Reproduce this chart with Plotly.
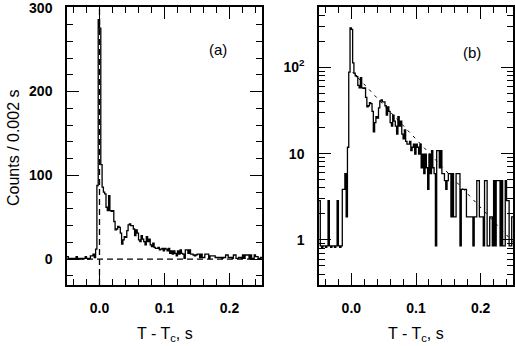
import math
import plotly.graph_objects as go

# ---------------- data ----------------
bin_width = 0.002          # s
x_start = -0.05            # s, left edge of first bin
counts = [
    3, 1, 0, 1, 1, 0, 1, 3, 1, 0,
    1, 1, 0, 1, 3, 1, 0, 1, 4, 4,
    6, 2, 12, 88, 286, 276, 113, 86, 80, 78,
    62, 58, 76, 58, 57, 58, 45, 35, 36, 39,
    38, 31, 18, 23, 27, 26, 34, 41, 42, 40,
    40, 36, 28, 35, 31, 23, 21, 28, 24, 21,
    17, 27, 21, 24, 17, 15, 19, 14, 13, 13,
    14, 11, 12, 13, 10, 13, 12, 10, 13, 7,
    10, 6, 10, 7, 4, 10, 6, 11, 7, 6,
    1, 11, 11, 7, 11, 6, 6, 5, 4, 5,
    6, 6, 2, 6, 2, 2, 6, 6, 6, 1,
    4, 4, 4, 4, 2, 2, 2, 2, 2, 1,
    2, 2, 5, 5, 2, 2, 2, 1, 5, 5,
    1, 1, 2, 2, 1, 5, 1, 5, 5, 5,
    1, 5, 1, 1, 5, 3, 3, 1, 1, 2,
]
background = 0.15          # counts per bin subtracted
log_floor = 0.82           # lowest value drawn on the log panel

fit_x = [0.002, 0.25]      # exponential fit (straight on log axis)
fit_y = [88.0, 0.95]

x_ticks = [0.0, 0.1, 0.2]
x_tick_text = ["0.0", "0.1", "0.2"]
lin_ticks = [0, 100, 200, 300]
log_ticks = [1, 10, 100]
log_tick_text = ["1", "10", "10<sup>2</sup>"]

# ---------------- derived ----------------
edges = [x_start + bin_width * i for i in range(len(counts) + 1)]
lin_vals = [c - background for c in counts]
log_vals = [max(v, log_floor) for v in lin_vals]
step_x = edges
lin_y = lin_vals + [lin_vals[-1]]
log_y = log_vals + [log_vals[-1]]

W, H = 515, 346
def px(x):
    return x / W
def py(y):
    return 1 - y / H

fig = go.Figure()
fig.add_trace(go.Scatter(x=step_x, y=lin_y, mode="lines", line=dict(shape="hv", color="black", width=1.3),
                         xaxis="x", yaxis="y", showlegend=False, hoverinfo="skip"))
fig.add_trace(go.Scatter(x=[0, 0], y=[-31, 301], mode="lines", line=dict(color="black", width=1.3, dash="6px,4px"),
                         xaxis="x", yaxis="y", showlegend=False, hoverinfo="skip"))
fig.add_trace(go.Scatter(x=[-0.05, 0.25], y=[0, 0], mode="lines", line=dict(color="black", width=1.2, dash="6px,4px"),
                         xaxis="x", yaxis="y", showlegend=False, hoverinfo="skip"))
fig.add_trace(go.Scatter(x=step_x, y=log_y, mode="lines", line=dict(shape="hv", color="black", width=1.3),
                         xaxis="x2", yaxis="y2", showlegend=False, hoverinfo="skip"))
fig.add_trace(go.Scatter(x=fit_x, y=fit_y, mode="lines", line=dict(color="black", width=1, dash="3px,5px"),
                         xaxis="x2", yaxis="y2", showlegend=False, hoverinfo="skip"))

tickfont = dict(family="Liberation Sans", size=14, color="black", weight="bold")
common = dict(showline=True, linecolor="black", linewidth=1.5, mirror="ticks", ticks="inside",
              tickcolor="black", tickwidth=1.2, ticklen=12, showgrid=False, zeroline=False,
              tickfont=tickfont, ticklabeloverflow="allow", automargin=False)

ydom = [py(285), py(7)]
fig.update_layout(
    width=W, height=H, margin=dict(l=0, r=0, t=0, b=0, autoexpand=False),
    paper_bgcolor="white", plot_bgcolor="white",
    font=dict(family="Liberation Sans", color="black"),
    xaxis=dict(domain=[px(67), px(262)], range=[-0.05, 0.25], tickvals=x_ticks, ticktext=x_tick_text,
               minor=dict(dtick=0.02, tick0=0, ticks="inside", ticklen=6, tickcolor="black", tickwidth=1.2),
               anchor="y", ticklabelstandoff=9, **common),
    yaxis=dict(domain=ydom, range=[-31, 301], tickvals=lin_ticks,
               minor=dict(dtick=20, tick0=0, ticks="inside", ticklen=6, tickcolor="black", tickwidth=1.2),
               anchor="x", ticklabelstandoff=10, **common),
    xaxis2=dict(domain=[px(319), px(513)], range=[-0.05, 0.25], tickvals=x_ticks, ticktext=x_tick_text,
                minor=dict(dtick=0.02, tick0=0, ticks="inside", ticklen=6, tickcolor="black", tickwidth=1.2),
                anchor="y2", ticklabelstandoff=9, **common),
    yaxis2=dict(domain=ydom, type="log", range=[math.log10(0.3), math.log10(500)], tickvals=log_ticks,
                ticktext=log_tick_text,
                minor=dict(dtick="D1", ticks="inside", ticklen=6, tickcolor="black", tickwidth=1.2),
                anchor="x2", ticklabelstandoff=10, **common),
)

title_font = dict(family="Liberation Sans", size=16, color="black")
annots = [
    dict(x=px(165), y=py(334), text="T - T<sub>c</sub>, s", showarrow=False, font=title_font,
         xanchor="center", yanchor="middle"),
    dict(x=px(416), y=py(334), text="T - T<sub>c</sub>, s", showarrow=False, font=title_font,
         xanchor="center", yanchor="middle"),
    dict(x=px(13), y=py(148), text="Counts / 0.002 s", showarrow=False, font=title_font, textangle=-90,
         xanchor="center", yanchor="middle"),
    dict(x=px(218), y=py(50), text="(a)", showarrow=False, font=dict(family="Liberation Sans", size=15, color="black"),
         xanchor="center", yanchor="middle"),
    dict(x=px(472), y=py(52), text="(b)", showarrow=False, font=dict(family="Liberation Sans", size=15, color="black"),
         xanchor="center", yanchor="middle"),
]
for a in annots:
    a.update(xref="paper", yref="paper")
fig.update_layout(annotations=annots)

fig.write_html("out.html")
